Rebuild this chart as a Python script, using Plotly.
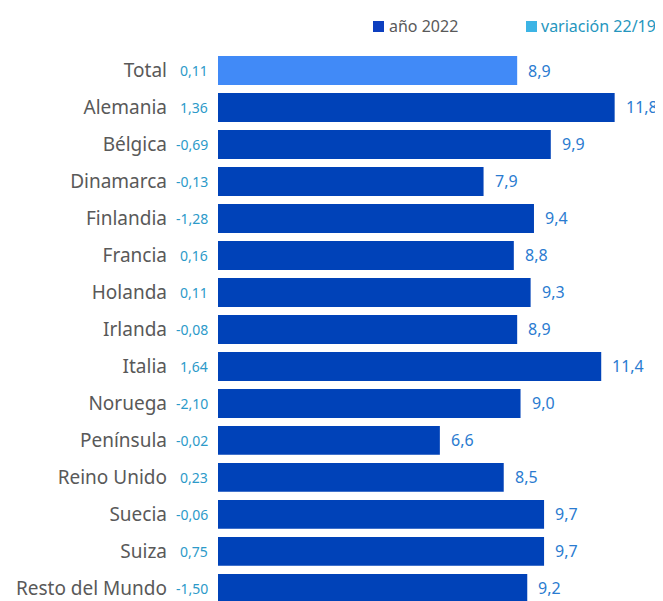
import plotly.graph_objects as go

paises = ['Total', 'Alemania', 'Bélgica', 'Dinamarca', 'Finlandia', 'Francia',
          'Holanda', 'Irlanda', 'Italia', 'Noruega', 'Península', 'Reino Unido',
          'Suecia', 'Suiza', 'Resto del Mundo']
anio_2022 = [8.9, 11.8, 9.9, 7.9, 9.4, 8.8, 9.3, 8.9, 11.4, 9.0, 6.6, 8.5, 9.7, 9.7, 9.2]
variacion = [0.11, 1.36, -0.69, -0.13, -1.28, 0.16, 0.11, -0.08, 1.64, -2.10,
             -0.02, 0.23, -0.06, 0.75, -1.50]

def coma(v, d):
    return f'{v:.{d}f}'.replace('.', ',')

font = 'Noto Sans'
colores = ['#418AF7' if p == 'Total' else '#0042B8' for p in paises]

# la página tiene 8px de margen en el body: la figura empieza en (8, 8)
W, H = 655, 593
L, R, T, B = 210, 8, 44, 0
PW, PH = W - L - R, H - T - B

def px(x):
    return (x - L) / PW

def py(y):
    return 1 - (y - T) / PH

fig = go.Figure()
fig.add_trace(go.Bar(
    y=paises, x=anio_2022, orientation='h',
    marker=dict(color=colores, line=dict(width=0)),
    showlegend=False, hoverinfo='skip'
))

annotations = []
for p, v, var in zip(paises, anio_2022, variacion):
    annotations.append(dict(x=v, y=p, xref='x', yref='y', text=coma(v, 1),
                            showarrow=False, xanchor='left', xshift=9,
                            font=dict(family=font, size=16, color='#2A7BD0')))
    annotations.append(dict(x=px(L - 8), y=p, xref='paper', yref='y', text=coma(var, 2),
                            showarrow=False, xanchor='right',
                            font=dict(family=font, size=14, color='#2C9AC9')))

# leyenda
annotations.append(dict(x=px(379), y=py(18), xref='paper', yref='paper', showarrow=False,
                        text='año 2022', xanchor='left', yanchor='middle',
                        font=dict(family=font, size=16, color='#595959')))
annotations.append(dict(x=px(531), y=py(18), xref='paper', yref='paper', showarrow=False,
                        text='variación 22/19', xanchor='left', yanchor='middle',
                        font=dict(family=font, size=16, color='#2596BE')))
shapes = [
    dict(type='rect', xref='paper', yref='paper', x0=px(365), x1=px(376),
         y0=py(13), y1=py(24), fillcolor='#0D3FBF', line=dict(width=0)),
    dict(type='rect', xref='paper', yref='paper', x0=px(518), x1=px(529),
         y0=py(13), y1=py(24), fillcolor='#3CB4E5', line=dict(width=0)),
]

fig.update_layout(
    width=W, height=H,
    margin=dict(l=L, r=R, t=T, b=B, autoexpand=False),
    plot_bgcolor='white', paper_bgcolor='white',
    bargap=0.22,
    xaxis=dict(range=[0, 13], visible=False),
    yaxis=dict(range=[14.34, -0.5], showgrid=False, showline=False, ticks='',
               ticklabelstandoff=50, automargin=False,
               tickfont=dict(family=font, size=19, color='#595959')),
    annotations=annotations,
    shapes=shapes
)

fig.write_html('out.html')
